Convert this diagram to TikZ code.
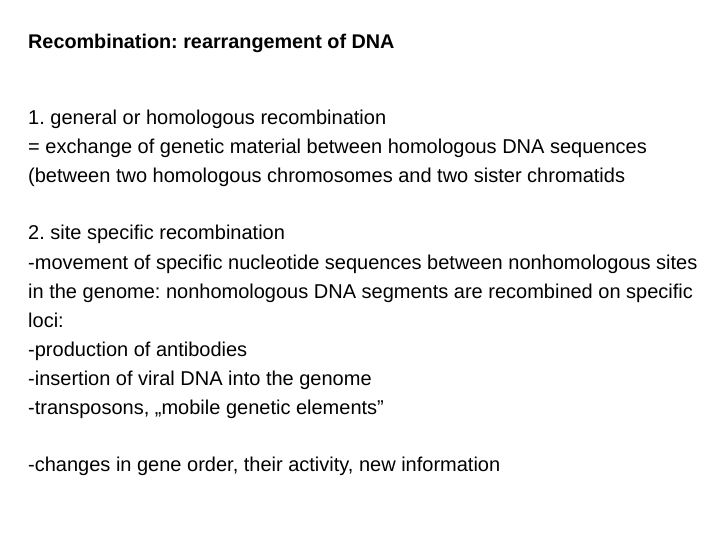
\documentclass[tikz,border=0pt]{standalone}
\usepackage{fontspec}
\setmainfont{Liberation Sans}
\frenchspacing
\begin{document}
\begin{tikzpicture}[x=1pt,y=-1pt,txt/.style={anchor=base west,inner sep=0pt,font=\fontsize{20}{24}\selectfont}]
\useasboundingbox[fill=white] (0,0) rectangle (720,540);
\node[txt,font=\fontsize{19.8}{24}\selectfont\bfseries] (t) at (28,49) {Recombination: rearrangement of DNA};
\node[txt] (a1) at (28,125) {1. general or homologous recombination};
\node[txt] (a2) at (28,154) {= exchange of genetic material between homologous DNA sequences};
\node[txt] (a3) at (28,183) {(between two homologous chromosomes and two sister chromatids};
\node[txt] (b1) at (28,240) {2. site specific recombination};
\node[txt] (b2) at (28,269) {-movement of specific nucleotide sequences between nonhomologous sites};
\node[txt] (b3) at (28,298) {in the genome: nonhomologous DNA segments are recombined on specific};
\node[txt] (b4) at (28,327) {loci:};
\node[txt] (b5) at (28,356) {-production of antibodies};
\node[txt] (b6) at (28,385) {-insertion of viral DNA into the genome};
\node[txt] (b7) at (28,414) {-transposons, „mobile genetic elements”};
\node[txt] (c1) at (28,471) {-changes in gene order, their activity, new information};
\end{tikzpicture}
\end{document}
